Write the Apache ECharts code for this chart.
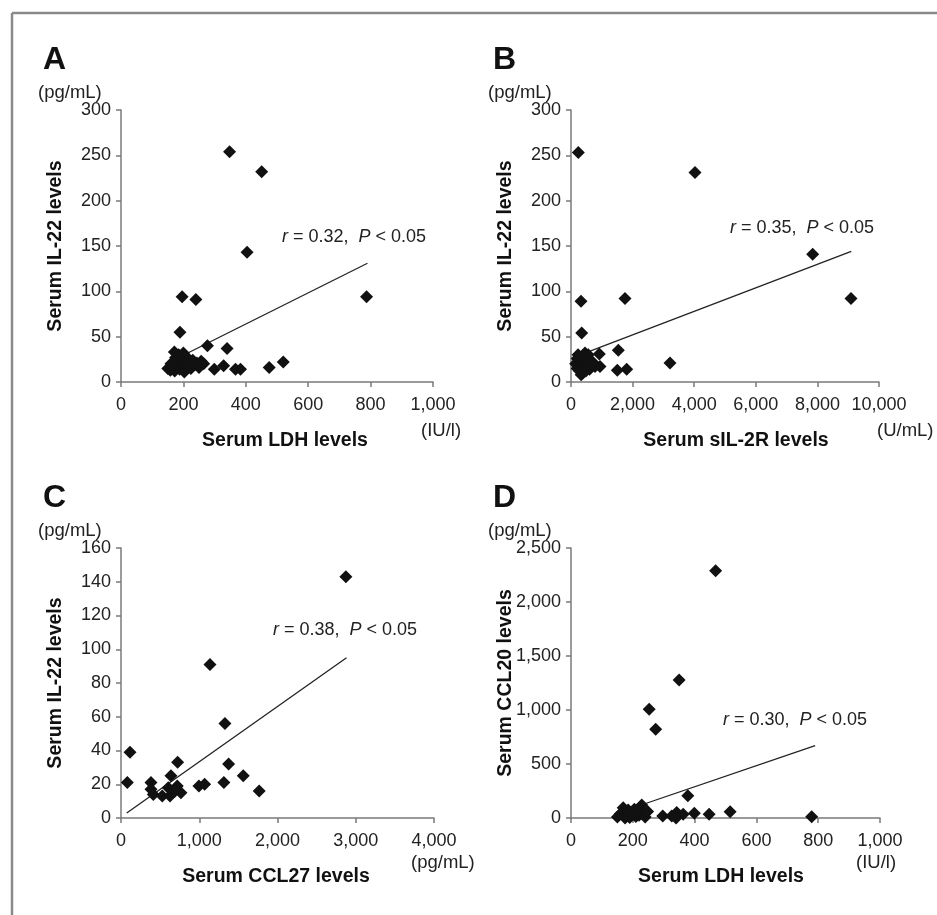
<!DOCTYPE html>
<html>
<head>
<meta charset="utf-8">
<script src="https://cdn.jsdelivr.net/npm/echarts@6/dist/echarts.min.js"></script>
<style>
  html, body { margin: 0; padding: 0; background: #fff; }
  #chart { width: 937px; height: 915px; }
</style>
</head>
<body>
<div id="chart"></div>
<script>
// A: serum LDH (IU/l) vs serum IL-22 (pg/mL)
var ldhIl22 = [
    [348, 254], [451, 232], [404, 143], [196, 94], [240, 91], [787, 94],
    [189, 55], [277, 40], [340, 37], [171, 33], [520, 22], [475, 16],
    [299, 14], [329, 18], [367, 14], [383, 14],
    [150, 15], [158, 13], [165, 16], [172, 12], [178, 18], [183, 22],
    [188, 14], [193, 25], [198, 19], [203, 11], [207, 28], [212, 17],
    [218, 22], [224, 15], [230, 24], [236, 19], [243, 21], [250, 16],
    [257, 23], [265, 20], [185, 30], [200, 32], [215, 26], [160, 20], [175, 27]
];
var fitA = [[150, 21], [790, 131]];

// B: serum sIL-2R (U/mL) vs serum IL-22 (pg/mL)
var sil2rIl22 = [
    [237, 253], [4026, 231], [7847, 141], [9091, 92], [325, 89], [1753, 92],
    [347, 54], [1536, 35], [919, 31], [3214, 21], [1503, 13], [1808, 14],
    [942, 17], [455, 32],
    [150, 20], [200, 15], [250, 25], [280, 12], [300, 18], [350, 22],
    [380, 10], [420, 28], [450, 16], [500, 20], [550, 24], [600, 14],
    [650, 19], [700, 22], [780, 17], [230, 30], [330, 8], [480, 12],
    [560, 30], [200, 26]
];
var fitB = [[300, 30], [9100, 144]];

// C: serum CCL27 (pg/mL) vs serum IL-22 (pg/mL)
var ccl27Il22 = [
    [2874, 143], [1137, 91], [1328, 56], [115, 39], [81, 21], [724, 33],
    [638, 25], [1375, 32], [1562, 25], [1315, 21], [1766, 16], [996, 19],
    [1069, 20], [383, 21], [383, 17], [413, 14], [527, 13], [626, 13],
    [604, 18], [719, 19], [766, 15], [690, 16]
];
var fitC = [[73, 3], [2882, 95]];

// D: serum LDH (IU/l) vs serum CCL20 (pg/mL)
var ldhCcl20 = [
    [468, 2290], [350, 1278], [253, 1006], [274, 821], [378, 207], [229, 120],
    [515, 58], [779, 12], [447, 34], [399, 43], [342, 52], [297, 19],
    [326, 19], [363, 34], [340, 0],
    [150, 10], [160, 40], [169, 95], [175, 60], [180, 20], [185, 75],
    [190, 5], [195, 45], [200, 30], [205, 80], [210, 15], [215, 55],
    [220, 25], [230, 40], [240, 10], [248, 60], [175, 0]
];
var fitD = [[180, 74], [790, 670]];

var panelLetters = ['A', 'B', 'C', 'D'];
var xNames = ['Serum LDH levels', 'Serum sIL-2R levels', 'Serum CCL27 levels', 'Serum LDH levels'];
var yNames = ['Serum IL-22 levels', 'Serum IL-22 levels', 'Serum IL-22 levels', 'Serum CCL20 levels'];
var xUnits = ['(IU/l)', '(U/mL)', '(pg/mL)', '(IU/l)'];
var stats = [['0.32', '0.05'], ['0.35', '0.05'], ['0.38', '0.05'], ['0.30', '0.05']];
var xMax = [1000, 10000, 4000, 1000];
var xStep = [200, 2000, 1000, 200];
var yMax = [300, 300, 160, 2500];
var yStep = [50, 50, 20, 500];

var FONT = '"Liberation Sans", Arial, Helvetica, sans-serif';
var axisGray = '#7a7a7a';

var grids = [
    {left: 121, top: 110, width: 312, height: 272},
    {left: 571, top: 110, width: 308, height: 272},
    {left: 121, top: 548, width: 313, height: 270},
    {left: 571, top: 548, width: 309, height: 270}
];

function fmt(v) {
    return v.toLocaleString('en-US');
}

var xAxes = [], yAxes = [];
for (var i = 0; i < 4; i++) {
    xAxes.push({
        type: 'value', gridIndex: i, min: 0, max: xMax[i], interval: xStep[i],
        axisLine: {lineStyle: {color: axisGray, width: 1.5}},
        axisTick: {show: true, length: 5, lineStyle: {color: axisGray, width: 1.5}},
        axisLabel: {color: '#222', fontSize: 18, fontFamily: FONT, margin: 14, formatter: fmt},
        splitLine: {show: false}
    });
    yAxes.push({
        type: 'value', gridIndex: i, min: 0, max: yMax[i], interval: yStep[i],
        axisLine: {show: true, lineStyle: {color: axisGray, width: 1.5}},
        axisTick: {show: true, length: 5, lineStyle: {color: axisGray, width: 1.5}},
        axisLabel: {color: '#222', fontSize: 18, fontFamily: FONT, margin: 10, formatter: fmt},
        splitLine: {show: false}
    });
}

var pointSets = [ldhIl22, sil2rIl22, ccl27Il22, ldhCcl20];
var fits = [fitA, fitB, fitC, fitD];
var series = [];
for (var j = 0; j < 4; j++) {
    series.push({
        type: 'scatter', xAxisIndex: j, yAxisIndex: j,
        symbol: 'diamond', symbolSize: 13,
        itemStyle: {color: '#111', opacity: 1},
        data: pointSets[j], z: 3
    });
    series.push({
        type: 'line', xAxisIndex: j, yAxisIndex: j,
        showSymbol: false, symbol: 'none',
        lineStyle: {color: '#222', width: 1.3},
        data: fits[j], z: 2
    });
}

// label positions (px)
var letterPos = [[43, 60], [493, 60], [43, 498], [493, 498]];
var unitYPos = [[38, 93], [488, 93], [38, 531], [488, 531]];
var yNamePos = [[56, 246], [506, 246], [56, 683], [506, 683]];
var xNamePos = [[285, 441], [736, 441], [276, 877], [721, 877]];
var xUnitPos = [[421, 431], [877, 431], [411, 863], [856, 863]];
var statPos = [[282, 237], [730, 228], [273, 630], [723, 720]];

var graphic = [
    {type: 'line', shape: {x1: 12, y1: 13, x2: 937, y2: 13}, style: {stroke: '#8a8a8a', lineWidth: 2.5}},
    {type: 'line', shape: {x1: 12, y1: 13, x2: 12, y2: 915}, style: {stroke: '#8a8a8a', lineWidth: 2.5}}
];
for (var k = 0; k < 4; k++) {
    graphic.push({
        type: 'text', x: letterPos[k][0], y: letterPos[k][1],
        style: {text: panelLetters[k], font: 'bold 32px ' + FONT, fill: '#111', textVerticalAlign: 'middle'}
    });
    graphic.push({
        type: 'text', x: unitYPos[k][0], y: unitYPos[k][1],
        style: {text: '(pg/mL)', font: '18.5px ' + FONT, fill: '#222', textVerticalAlign: 'middle'}
    });
    graphic.push({
        type: 'text', x: yNamePos[k][0], y: yNamePos[k][1], rotation: Math.PI / 2,
        style: {text: yNames[k], font: 'bold 19.5px ' + FONT, fill: '#111', textAlign: 'center', textVerticalAlign: 'middle'}
    });
    graphic.push({
        type: 'text', x: xNamePos[k][0], y: xNamePos[k][1],
        style: {text: xNames[k], font: 'bold 19.5px ' + FONT, fill: '#111', textAlign: 'center', textVerticalAlign: 'middle'}
    });
    graphic.push({
        type: 'text', x: xUnitPos[k][0], y: xUnitPos[k][1],
        style: {text: xUnits[k], font: '18.5px ' + FONT, fill: '#222', textVerticalAlign: 'middle'}
    });
    graphic.push({
        type: 'text', x: statPos[k][0], y: statPos[k][1],
        style: {
            text: '{i|r} = ' + stats[k][0] + ',  {i|P} < ' + stats[k][1],
            font: '18px ' + FONT, fill: '#222', textVerticalAlign: 'middle',
            rich: {i: {fontStyle: 'italic', fontSize: 18, fontFamily: FONT, fill: '#222'}}
        }
    });
}

var chart = echarts.init(document.getElementById('chart'));
chart.setOption({
    animation: false,
    backgroundColor: '#fff',
    grid: grids,
    xAxis: xAxes,
    yAxis: yAxes,
    series: series,
    graphic: graphic
});
</script>
</body>
</html>
